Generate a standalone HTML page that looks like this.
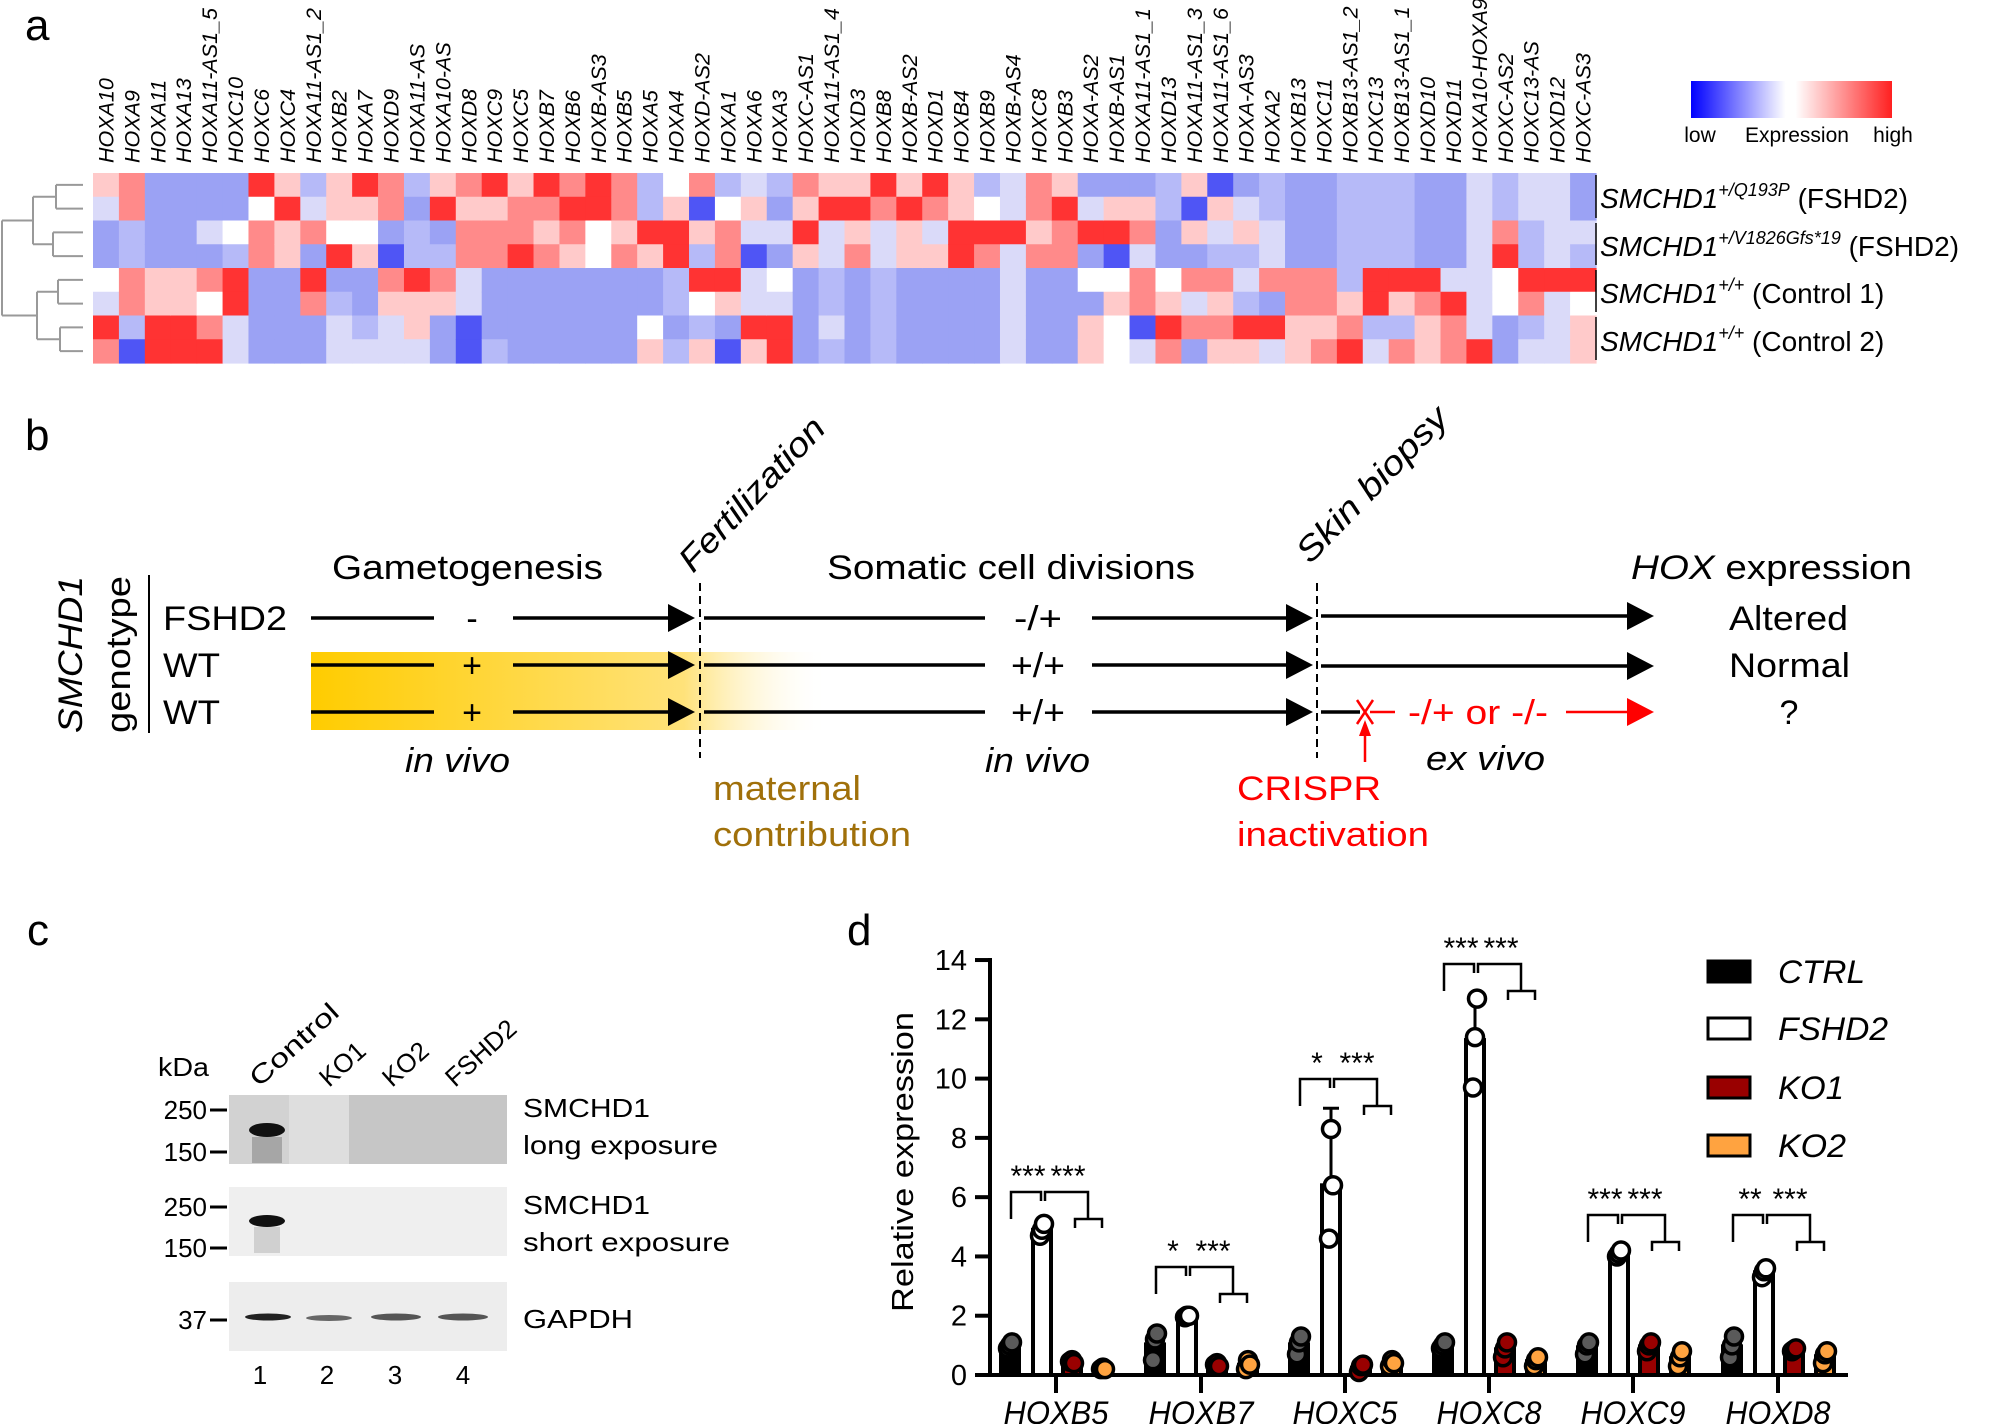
<!DOCTYPE html>
<html><head><meta charset="utf-8">
<style>
html,body{margin:0;padding:0;background:#fff;}
svg{display:block;font-family:"Liberation Sans",Arial,sans-serif;}
</style></head>
<body>
<svg id="s" width="2000" height="1424" viewBox="0 0 2000 1424" xmlns="http://www.w3.org/2000/svg">
<defs>
<linearGradient id="leg" x1="0" x2="1" y1="0" y2="0">
<stop offset="0" stop-color="#0000ff"/><stop offset="0.47" stop-color="#ffffff"/><stop offset="0.52" stop-color="#ffffff"/><stop offset="1" stop-color="#ff2020"/>
</linearGradient>
<linearGradient id="yel" x1="311" x2="829" y1="0" y2="0" gradientUnits="userSpaceOnUse">
<stop offset="0" stop-color="#ffcc00"/><stop offset="0.72" stop-color="#ffe27a"/><stop offset="1" stop-color="#ffffff" stop-opacity="0"/>
</linearGradient>
</defs>
<g id="heat"></g>
<!-- panel a labels -->
<text x="25" y="40" font-size="44">a</text>
<rect x="1691" y="81" width="201" height="37" fill="url(#leg)"/>
<text x="1700" y="142" font-size="21" text-anchor="middle">low</text>
<text x="1797" y="142" font-size="21" text-anchor="middle">Expression</text>
<text x="1893" y="142" font-size="21" text-anchor="middle">high</text>
<g font-size="28">
<line x1="1596" y1="175" x2="1596" y2="218" stroke="#000" stroke-width="1.5"/>
<line x1="1596" y1="223" x2="1596" y2="265" stroke="#000" stroke-width="1.5"/>
<line x1="1596" y1="270" x2="1596" y2="312" stroke="#000" stroke-width="1.5"/>
<line x1="1596" y1="317" x2="1596" y2="360" stroke="#000" stroke-width="1.5"/>
<text x="1600" y="208"><tspan font-style="italic">SMCHD1</tspan><tspan font-style="italic" font-size="18" dy="-12">+/Q193P</tspan><tspan dy="12"> (FSHD2)</tspan></text>
<text x="1600" y="256"><tspan font-style="italic">SMCHD1</tspan><tspan font-style="italic" font-size="18" dy="-12">+/V1826Gfs*19</tspan><tspan dy="12"> (FSHD2)</tspan></text>
<text x="1600" y="303"><tspan font-style="italic">SMCHD1</tspan><tspan font-style="italic" font-size="18" dy="-12">+/+</tspan><tspan dy="12"> (Control 1)</tspan></text>
<text x="1600" y="351"><tspan font-style="italic">SMCHD1</tspan><tspan font-style="italic" font-size="18" dy="-12">+/+</tspan><tspan dy="12"> (Control 2)</tspan></text>
</g>

<!-- panel b -->
<text x="25" y="450" font-size="44">b</text>
<rect x="311" y="652" width="518" height="78" fill="url(#yel)"/>
<g font-size="34">
<text x="332" y="579" textLength="271" lengthAdjust="spacingAndGlyphs">Gametogenesis</text>
<text x="827" y="579" textLength="368" lengthAdjust="spacingAndGlyphs">Somatic cell divisions</text>
<text x="1631" y="579" textLength="281" lengthAdjust="spacingAndGlyphs"><tspan font-style="italic">HOX</tspan> expression</text>
<text transform="translate(693,574) rotate(-47)" textLength="197" lengthAdjust="spacingAndGlyphs" font-style="italic">Fertilization</text>
<text transform="translate(1310,565) rotate(-46)" textLength="202" lengthAdjust="spacingAndGlyphs" font-style="italic">Skin biopsy</text>
<text x="163" y="630" textLength="124" lengthAdjust="spacingAndGlyphs">FSHD2</text>
<text x="163" y="677" textLength="57" lengthAdjust="spacingAndGlyphs">WT</text>
<text x="163" y="724" textLength="57" lengthAdjust="spacingAndGlyphs">WT</text>
<text transform="translate(82,733) rotate(-90)" textLength="157" lengthAdjust="spacingAndGlyphs" font-style="italic">SMCHD1</text>
<text transform="translate(130,733) rotate(-90)" textLength="157" lengthAdjust="spacingAndGlyphs">genotype</text>
<text x="1729" y="630" textLength="119" lengthAdjust="spacingAndGlyphs">Altered</text>
<text x="1729" y="677" textLength="121" lengthAdjust="spacingAndGlyphs">Normal</text>
<text x="1789" y="724" text-anchor="middle">?</text>
<text x="472" y="630" text-anchor="middle">-</text>
<text x="472" y="677" text-anchor="middle">+</text>
<text x="472" y="724" text-anchor="middle">+</text>
<text x="1014" y="630" textLength="48" lengthAdjust="spacingAndGlyphs">-/+</text>
<text x="1011" y="677" textLength="54" lengthAdjust="spacingAndGlyphs">+/+</text>
<text x="1011" y="724" textLength="54" lengthAdjust="spacingAndGlyphs">+/+</text>
<text x="1408" y="724" fill="#ff0000" textLength="140" lengthAdjust="spacingAndGlyphs">-/+ or -/-</text>
<text x="405" y="772" font-style="italic" textLength="105" lengthAdjust="spacingAndGlyphs">in vivo</text>
<text x="985" y="772" font-style="italic" textLength="105" lengthAdjust="spacingAndGlyphs">in vivo</text>
<text x="1426" y="770" font-style="italic" textLength="119" lengthAdjust="spacingAndGlyphs">ex vivo</text>
<text x="713" y="800" fill="#a0700a" textLength="148" lengthAdjust="spacingAndGlyphs">maternal</text>
<text x="713" y="846" fill="#a0700a" textLength="198" lengthAdjust="spacingAndGlyphs">contribution</text>
<text x="1237" y="800" fill="#ff0000" textLength="144" lengthAdjust="spacingAndGlyphs">CRISPR</text>
<text x="1237" y="846" fill="#ff0000" textLength="192" lengthAdjust="spacingAndGlyphs">inactivation</text>
</g>
<line x1="149" y1="575" x2="149" y2="733" stroke="#000" stroke-width="2"/>
<g stroke="#000" stroke-width="3.5">
<line x1="311" y1="618" x2="434" y2="618"/><line x1="513" y1="618" x2="672" y2="618"/>
<line x1="311" y1="665" x2="434" y2="665"/><line x1="513" y1="665" x2="672" y2="665"/>
<line x1="311" y1="712" x2="434" y2="712"/><line x1="513" y1="712" x2="672" y2="712"/>
<line x1="704" y1="618" x2="985" y2="618"/><line x1="1092" y1="618" x2="1290" y2="618"/>
<line x1="704" y1="665" x2="985" y2="665"/><line x1="1092" y1="665" x2="1290" y2="665"/>
<line x1="704" y1="712" x2="985" y2="712"/><line x1="1092" y1="712" x2="1290" y2="712"/>
<line x1="1321" y1="616" x2="1630" y2="616"/>
<line x1="1321" y1="666" x2="1630" y2="666"/>
<line x1="1321" y1="712" x2="1360" y2="712"/>
</g>
<g fill="#000">
<polygon points="695,618 668,604 668,632"/><polygon points="695,665 668,651 668,679"/><polygon points="695,712 668,698 668,726"/>
<polygon points="1313,618 1286,604 1286,632"/><polygon points="1313,665 1286,651 1286,679"/><polygon points="1313,712 1286,698 1286,726"/>
<polygon points="1654,616 1627,602 1627,630"/><polygon points="1654,666 1627,652 1627,680"/>
</g>
<g stroke="#ff0000" stroke-width="2.5">
<line x1="1370" y1="712" x2="1395" y2="712"/><line x1="1566" y1="712" x2="1630" y2="712"/>
<line x1="1357" y1="700" x2="1373" y2="724"/><line x1="1373" y1="700" x2="1357" y2="724"/>
<line x1="1365" y1="762" x2="1365" y2="735"/>
</g>
<polygon points="1654,712 1627,698 1627,726" fill="#ff0000"/>
<polygon points="1365,720 1359,736 1371,736" fill="#ff0000"/>
<g stroke="#000" stroke-width="2" stroke-dasharray="8,5">
<line x1="700" y1="583" x2="700" y2="758"/><line x1="1317" y1="583" x2="1317" y2="758"/>
</g>

<!-- panel c -->
<text x="27" y="945" font-size="44">c</text>
<g font-size="26">
<text x="158" y="1076" textLength="51" lengthAdjust="spacingAndGlyphs">kDa</text>
<text transform="translate(259,1088) rotate(-42)" textLength="110" lengthAdjust="spacingAndGlyphs">Control</text>
<text transform="translate(329,1088) rotate(-42)">KO1</text>
<text transform="translate(392,1088) rotate(-42)">KO2</text>
<text transform="translate(455,1088) rotate(-42)">FSHD2</text>
<text x="207" y="1119" text-anchor="end">250</text>
<text x="207" y="1161" text-anchor="end">150</text>
<text x="207" y="1216" text-anchor="end">250</text>
<text x="207" y="1257" text-anchor="end">150</text>
<text x="207" y="1329" text-anchor="end">37</text>
<text x="523" y="1117" textLength="127" lengthAdjust="spacingAndGlyphs">SMCHD1</text>
<text x="523" y="1154" textLength="195" lengthAdjust="spacingAndGlyphs">long exposure</text>
<text x="523" y="1214" textLength="127" lengthAdjust="spacingAndGlyphs">SMCHD1</text>
<text x="523" y="1251" textLength="207" lengthAdjust="spacingAndGlyphs">short exposure</text>
<text x="523" y="1328" textLength="110" lengthAdjust="spacingAndGlyphs">GAPDH</text>
<text x="260" y="1384" text-anchor="middle">1</text>
<text x="327" y="1384" text-anchor="middle">2</text>
<text x="395" y="1384" text-anchor="middle">3</text>
<text x="463" y="1384" text-anchor="middle">4</text>
</g>
<g stroke="#000" stroke-width="3">
<line x1="210" y1="1110" x2="227" y2="1110"/><line x1="210" y1="1152" x2="227" y2="1152"/>
<line x1="210" y1="1207" x2="227" y2="1207"/><line x1="210" y1="1248" x2="227" y2="1248"/>
<line x1="210" y1="1320" x2="227" y2="1320"/>
</g>
<rect x="229" y="1095" width="278" height="69" fill="#c6c6c6"/>
<rect x="229" y="1095" width="120" height="69" fill="#dedede"/>
<rect x="229" y="1095" width="60" height="69" fill="#d2d2d2"/>
<ellipse cx="267" cy="1130" rx="18" ry="7" fill="#111"/>
<rect x="252" y="1137" width="30" height="26" fill="#7a7a7a" opacity="0.5"/>
<rect x="229" y="1187" width="278" height="69" fill="#efefef"/>
<ellipse cx="267" cy="1221" rx="18" ry="6" fill="#111"/>
<rect x="254" y="1227" width="26" height="26" fill="#bbb" opacity="0.6"/>
<rect x="229" y="1282" width="278" height="69" fill="#ededed"/>
<ellipse cx="268" cy="1317" rx="23" ry="3.5" fill="#222"/>
<ellipse cx="329" cy="1318" rx="23" ry="3" fill="#666"/>
<ellipse cx="396" cy="1317" rx="25" ry="3.5" fill="#555"/>
<ellipse cx="463" cy="1317" rx="25" ry="3.5" fill="#555"/>

<!-- panel d -->
<text x="847" y="945" font-size="44">d</text>
<g id="chart"></g>
</svg>
<script>
(function(){
var NS="http://www.w3.org/2000/svg";
function el(p,t,a,txt){var e=document.createElementNS(NS,t);for(var k in a)e.setAttribute(k,a[k]);if(txt!=null)e.textContent=txt;p.appendChild(e);return e;}
var heat=document.getElementById('heat');
var names=["HOXA10","HOXA9","HOXA11","HOXA13","HOXA11-AS1_5","HOXC10","HOXC6","HOXC4","HOXA11-AS1_2","HOXB2","HOXA7","HOXD9","HOXA11-AS","HOXA10-AS","HOXD8","HOXC9","HOXC5","HOXB7","HOXB6","HOXB-AS3","HOXB5","HOXA5","HOXA4","HOXD-AS2","HOXA1","HOXA6","HOXA3","HOXC-AS1","HOXA11-AS1_4","HOXD3","HOXB8","HOXB-AS2","HOXD1","HOXB4","HOXB9","HOXB-AS4","HOXC8","HOXB3","HOXA-AS2","HOXB-AS1","HOXA11-AS1_1","HOXD13","HOXA11-AS1_3","HOXA11-AS1_6","HOXA-AS3","HOXA2","HOXB13","HOXC11","HOXB13-AS1_2","HOXC13","HOXB13-AS1_1","HOXD10","HOXD11","HOXA10-HOXA9","HOXC-AS2","HOXC13-AS","HOXD12","HOXC-AS3"];
var codes=["plmmwlRr","rrbbrrbB","mmmmppRR","mmmmppRR","mmlmrwrR","mmwbRRll","Rwrrmmmm","pRppmmmm","blrmRrmm","ppwRmbll","Rpwpmmbl","rrmBrpll","bmbbRppl","pRmbrpmm","rprrllBB","Rprrmmmb","prrRmmmm","Rrprmmmm","rRrpmmmm","RRwwmmmm","rrprmmmm","bbRpmmwp","wpRRbbmb","rBpbRwbp","bwrrRpmB","lplBllRp","bmlmwlRR","rpRpmmmm","pRllbblb","pRprmmmm","Rrllbbbb","pRppmmmm","Rrlpmmmm","ppRRmmmm","bwRrmmmm","llRlllll","rrprmmmm","pRrrmmmm","mlRmwmpp","mpRBwpww","mprlrrBl","bbmmwpRr","pBpmrlrm","Bplbrprp","mlpblbRp","bbllrmRl","mmmmrrpp","mmmmrrpr","bbbbbprR","bbbbRRbl","bbbbRpbr","mmmmRrpp","mmmmlRrr","lllllllR","bbrRwwmm","llbbRrbl","llllRlll","mmlbRwpp"];
var col={R:"#ff3333",r:"#ff8a8a",p:"#ffcaca",w:"#ffffff",l:"#dadaf9",b:"#b6baf8",m:"#9ba2f4",B:"#4f55f5"};
var x0=93,x1=1596,y0=173,rh=23.75,cw=(x1-x0)/58;
for(var c=0;c<58;c++){
 for(var r=0;r<8;r++){
  el(heat,'rect',{x:(x0+c*cw).toFixed(2),y:(y0+r*rh).toFixed(2),width:(cw+0.6).toFixed(2),height:(rh+0.6).toFixed(2),fill:col[codes[c][r]]});
 }
 var cx=x0+(c+0.5)*cw+7.5;
 el(heat,'text',{transform:'translate('+cx.toFixed(1)+',163) rotate(-90)','font-size':'21.5','font-style':'italic'},names[c]);
}
var rc=function(i){return y0+rh*(i+0.5);};
var g="#999";
function L(a,b,c,d){el(heat,'line',{x1:a,y1:b,x2:c,y2:d,stroke:g,'stroke-width':2});}
var pairs=[[0,1,56],[2,3,53],[4,5,58],[6,7,60]];
pairs.forEach(function(p){L(p[2],rc(p[0]),83,rc(p[0]));L(p[2],rc(p[1]),83,rc(p[1]));L(p[2],rc(p[0]),p[2],rc(p[1]));});
var m01=(rc(0)+rc(1))/2,m23=(rc(2)+rc(3))/2,m45=(rc(4)+rc(5))/2,m67=(rc(6)+rc(7))/2;
L(33,m01,56,m01);L(33,m23,53,m23);L(33,m01,33,m23);
L(37,m45,58,m45);L(37,m67,60,m67);L(37,m45,37,m67);
var ga=(m01+m23)/2,gb=(m45+m67)/2;
L(2,ga,33,ga);L(2,gb,37,gb);L(2,ga,2,gb);

var ch=document.getElementById('chart');
var ax=990,y0c=1375,u=29.64;
function Y(v){return y0c-v*u;}
for(var t=0;t<=14;t+=2){
 el(ch,'line',{x1:975,y1:Y(t),x2:ax,y2:Y(t),stroke:'#000','stroke-width':4});
 el(ch,'text',{x:967,y:Y(t)+10,'font-size':'29','text-anchor':'end'},String(t));
}
el(ch,'line',{x1:ax,y1:Y(14)-2,x2:ax,y2:y0c+2,stroke:'#000','stroke-width':4});
el(ch,'line',{x1:ax,y1:y0c,x2:1848,y2:y0c,stroke:'#000','stroke-width':4});
el(ch,'text',{transform:'translate(913,1312) rotate(-90)','font-size':'31',textLength:'300',lengthAdjust:'spacingAndGlyphs'},'Relative expression');
var genes=["HOXB5","HOXB7","HOXC5","HOXC8","HOXC9","HOXD8"];
var ticks=[1056,1201,1345,1489,1633,1778];
var offs=[-46,-14,16,47];
var fills=["#000","#fff","#990000","#ffa340"];
var dots=["#5a5a5a","#fff","#990000","#ffa340"];
var data=[
 [[0.9,1.0,1.1],[4.7,4.9,5.1],[0.45,0.5,0.4],[0.2,0.25,0.2]],
 [[0.5,1.2,1.4],[1.95,2.0,2.0],[0.35,0.4,0.3],[0.2,0.5,0.35]],
 [[0.7,1.1,1.3],[4.6,8.3,6.4],[0.1,0.3,0.35],[0.3,0.5,0.4]],
 [[0.9,1.0,1.1],[9.7,11.4,12.7],[0.6,0.9,1.1],[0.3,0.5,0.6]],
 [[0.7,1.0,1.1],[4.0,4.1,4.2],[0.8,1.0,1.1],[0.3,0.6,0.8]],
 [[0.6,1.0,1.3],[3.3,3.5,3.6],[0.8,0.85,0.9],[0.4,0.7,0.8]]];
var brY=[1192,1267,1079,964,1215,1215];
var stars=[["***","***"],["*","***"],["*","***"],["***","***"],["***","***"],["**","***"]];
for(var gi=0;gi<6;gi++){
 var T=ticks[gi];
 el(ch,'line',{x1:T,y1:y0c,x2:T,y2:y0c+18,stroke:'#000','stroke-width':4});
 el(ch,'text',{x:T,y:1424,'font-size':'32','font-style':'italic','text-anchor':'middle',textLength:'105',lengthAdjust:'spacingAndGlyphs'},genes[gi]);
 for(var s=0;s<4;s++){
  var d=data[gi][s];var mean=(d[0]+d[1]+d[2])/3;var bx=T+offs[s];
  if(gi==2&&s==1){mean=6.4;}
  if(gi==3&&s==1){mean=11.3;}
  if(s==1){
   var sd=gi==2?2.6:(gi==3?1.4:0.15);
   el(ch,'line',{x1:bx,y1:Y(mean+sd),x2:bx,y2:Y(mean-sd),stroke:'#000','stroke-width':3});
   el(ch,'line',{x1:bx-8,y1:Y(mean+sd),x2:bx+8,y2:Y(mean+sd),stroke:'#000','stroke-width':3});
   el(ch,'line',{x1:bx-8,y1:Y(mean-sd),x2:bx+8,y2:Y(mean-sd),stroke:'#000','stroke-width':3});
  }
  el(ch,'rect',{x:bx-9,y:Y(mean),width:18,height:y0c-Y(mean),fill:fills[s],stroke:'#000','stroke-width':4});
  for(var k=0;k<3;k++){
   el(ch,'circle',{cx:bx+(k-1)*2,cy:Y(d[k]),r:8.5,fill:dots[s],stroke:'#000','stroke-width':3.5});
  }
 }
 var by=brY[gi];
 var P=function(pts){el(ch,'polyline',{points:pts,fill:'none',stroke:'#000','stroke-width':2.5});};
 P((T-45)+','+(by+27)+' '+(T-45)+','+by+' '+(T-15)+','+by+' '+(T-15)+','+(by+9));
 P((T-11)+','+(by+9)+' '+(T-11)+','+by+' '+(T+32)+','+by+' '+(T+32)+','+(by+27));
 P((T+19)+','+(by+36)+' '+(T+19)+','+(by+27)+' '+(T+46)+','+(by+27)+' '+(T+46)+','+(by+36));
 el(ch,'text',{x:T-28,y:by-6,'font-size':'30','text-anchor':'middle'},stars[gi][0]);
 el(ch,'text',{x:T+12,y:by-6,'font-size':'30','text-anchor':'middle'},stars[gi][1]);
}
var lg=[["CTRL","#000",87],["FSHD2","#fff",110],["KO1","#990000",66],["KO2","#ffa340",68]];
var ly=[971,1028,1087,1145];
for(var i=0;i<4;i++){
 el(ch,'rect',{x:1708,y:ly[i]-10,width:42,height:21,fill:lg[i][1],stroke:'#000','stroke-width':3});
 el(ch,'text',{x:1778,y:ly[i]+12,'font-size':'32','font-style':'italic',textLength:lg[i][2],lengthAdjust:'spacingAndGlyphs'},lg[i][0]);
}
})();
</script>
</body></html>
